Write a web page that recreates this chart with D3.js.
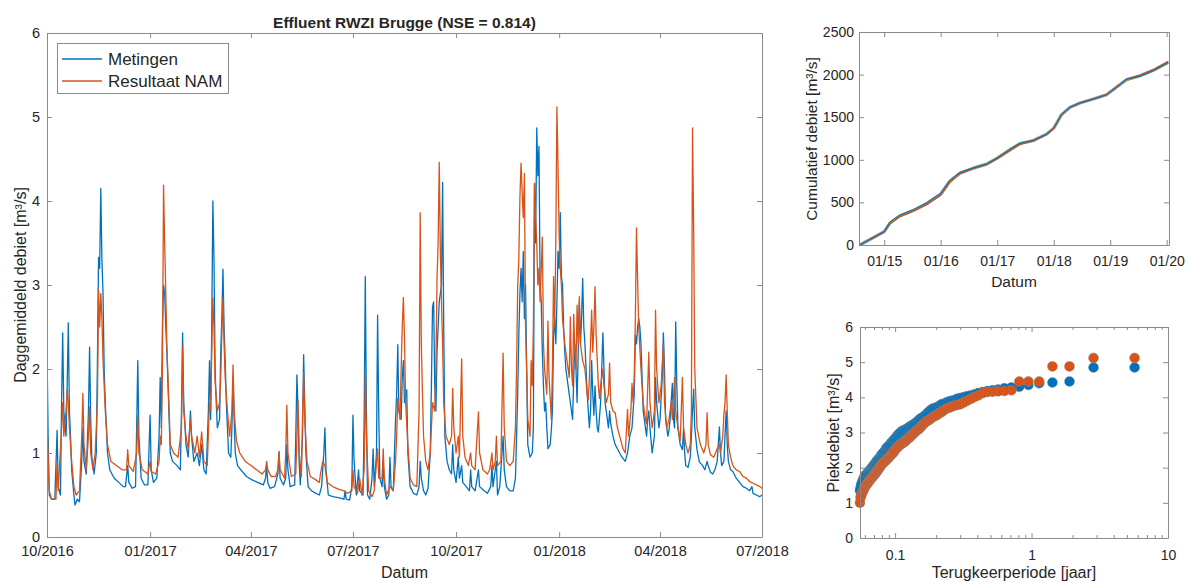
<!DOCTYPE html>
<html>
<head>
<meta charset="utf-8">
<script src="https://cdn.jsdelivr.net/npm/d3@7"></script>
<style>
  body { margin: 0; background: #fff; }
  svg { display: block; }
  text { font-family: "Liberation Sans", Arial, Helvetica, sans-serif; fill: #262626; }
  .axis .domain, .axis line { stroke: #8a8a8a; stroke-width: 1; }
</style>
</head>
<body>
<svg id="fig" width="1189" height="582"></svg>
<script>
// ---------------- Data ----------------

// Daily effluent discharge, Oct 2016 - Jul 2018: [day since 2016-10-01, m3/s]
const startDate = new Date(2016, 9, 1);
const endDate = new Date(2018, 6, 1);

const metingen = [
  [0,2.25],[1,1.2],[2,0.5],[4,0.45],[7,0.45],[9,1.27],[10,0.6],[12,0.5],[13,1.6],[14,2.43],[15,1.5],[17,1.2],[18,1.8],[19,2.55],[20,1.5],[21,1.2],[22,0.8],[24,0.5],[25,0.38],[27,0.45],[29,0.42],[31,0.9],[32,1.3],[33,0.9],[35,0.75],[37,1.5],[38,2.26],[39,1.4],[40,0.95],[42,0.75],[44,1.0],[45,2.1],[46,3.33],[47,3.2],[48,4.15],[49,3.3],[50,2.9],[51,2.0],[52,1.6],[54,1.0],[56,0.8],[60,0.7],[64,0.65],[68,0.6],[70,0.6],[72,0.85],[73,0.65],[76,0.58],[79,0.6],[80,1.3],[81,2.1],[82,1.2],[84,0.7],[87,0.62],[90,0.62],[92,1.45],[93,0.8],[95,0.65],[98,0.7],[100,1.2],[101,1.9],[102,1.3],[103,2.5],[104,3.0],[105,2.9],[106,2.5],[107,2.2],[109,1.4],[110,1.0],[112,0.9],[116,0.85],[119,0.8],[120,1.5],[121,2.43],[122,1.6],[124,1.1],[126,0.95],[128,1.5],[129,1.2],[131,0.9],[134,1.0],[136,0.85],[138,1.1],[140,0.8],[142,0.75],[144,1.5],[145,2.1],[146,1.4],[147,2.5],[148,4.0],[149,3.3],[150,2.0],[151,1.6],[152,1.3],[154,1.4],[155,2.2],[156,2.6],[157,3.19],[158,2.5],[159,2.1],[160,1.6],[161,1.3],[162,1.0],[164,0.95],[165,1.3],[166,1.9],[167,1.4],[168,1.0],[170,0.85],[173,0.8],[178,0.72],[183,0.68],[188,0.65],[193,0.62],[195,0.7],[196,0.85],[197,0.65],[199,0.58],[203,0.6],[206,0.75],[207,1.02],[208,0.7],[211,0.62],[213,0.7],[214,1.1],[215,0.8],[217,0.6],[221,0.62],[222,1.2],[223,1.93],[224,1.5],[225,0.9],[226,0.62],[228,1.2],[229,2.17],[230,1.6],[231,1.0],[233,0.6],[236,0.55],[240,0.52],[243,0.5],[245,0.6],[246,0.8],[247,1.0],[248,1.3],[249,0.8],[251,0.5],[255,0.48],[260,0.47],[265,0.45],[266,0.55],[267,0.45],[270,0.44],[272,0.6],[273,1.45],[274,0.9],[276,0.5],[278,0.8],[279,0.55],[282,0.5],[283,1.4],[284,3.1],[285,1.5],[286,0.5],[288,0.45],[290,0.7],[291,1.05],[292,0.6],[294,1.0],[295,2.64],[296,1.5],[297,0.7],[299,0.6],[300,0.9],[301,0.6],[303,0.45],[305,0.5],[306,0.95],[307,0.6],[309,0.55],[311,1.4],[312,1.7],[313,2.29],[314,1.5],[316,1.4],[317,1.9],[318,2.1],[319,1.6],[321,1.75],[322,1.0],[324,0.6],[327,0.52],[330,0.5],[332,0.6],[333,0.9],[334,0.7],[336,0.55],[338,0.5],[340,0.58],[342,1.0],[343,1.8],[344,2.74],[345,2.8],[346,1.8],[347,1.5],[348,2.2],[350,2.8],[352,3.0],[353,4.22],[354,2.5],[355,1.2],[357,0.9],[359,0.8],[361,0.75],[362,1.1],[363,0.8],[365,0.65],[367,0.95],[368,0.7],[370,0.85],[371,0.65],[374,0.6],[377,0.55],[378,0.8],[379,0.6],[382,0.55],[385,0.8],[386,0.6],[390,0.55],[393,0.52],[396,0.6],[397,0.85],[398,0.6],[401,0.9],[402,0.5],[404,0.6],[407,1.2],[408,0.8],[410,0.6],[413,0.55],[416,0.55],[418,0.7],[420,1.7],[421,2.4],[422,2.9],[423,3.2],[424,2.8],[425,3.4],[426,2.6],[427,3.0],[428,2.0],[429,1.1],[431,0.95],[433,1.0],[434,1.3],[435,4.21],[436,3.5],[437,4.87],[438,4.3],[439,4.65],[440,3.0],[441,2.8],[442,2.2],[443,1.8],[444,1.5],[445,1.6],[446,1.3],[447,1.05],[449,1.1],[450,1.27],[451,1.5],[452,2.4],[453,2.6],[454,2.3],[455,2.8],[456,3.4],[457,3.2],[458,3.86],[459,3.1],[460,3.0],[461,2.5],[462,2.2],[463,2.0],[465,1.8],[467,1.6],[469,1.4],[470,1.9],[471,2.3],[472,2.0],[473,1.6],[474,2.2],[475,2.8],[476,2.3],[477,2.6],[478,3.08],[479,2.5],[480,2.3],[481,2.0],[482,1.7],[483,1.5],[484,1.3],[485,1.5],[486,2.1],[487,1.7],[488,1.45],[489,1.8],[490,1.5],[491,1.3],[492,1.25],[493,1.43],[494,1.6],[495,2.0],[496,2.43],[497,2.0],[498,1.6],[499,1.5],[501,1.3],[502,1.5],[503,1.35],[505,1.2],[507,1.1],[509,1.05],[511,1.0],[513,0.95],[516,0.9],[518,1.0],[520,1.2],[522,1.3],[524,1.7],[525,2.4],[526,2.3],[527,2.5],[528,2.6],[529,2.5],[530,2.3],[531,1.9],[532,1.5],[534,1.3],[535,1.2],[536,1.4],[537,1.5],[538,1.3],[540,1.0],[542,1.2],[543,1.9],[544,1.6],[546,1.3],[547,1.4],[549,1.9],[550,2.43],[551,2.0],[552,1.4],[554,1.2],[555,1.27],[556,1.4],[558,1.83],[559,1.4],[560,1.3],[561,2.56],[562,1.8],[563,1.3],[565,1.1],[567,1.04],[568,1.3],[569,1.0],[570,0.85],[572,0.83],[574,0.95],[575,1.2],[576,1.5],[577,1.76],[578,1.3],[580,1.04],[582,0.9],[583,0.88],[585,0.85],[587,0.8],[589,0.9],[590,0.85],[592,0.77],[594,0.75],[596,0.8],[598,0.9],[599,1.1],[600,1.31],[601,1.0],[602,0.85],[604,0.9],[605,1.2],[606,1.5],[607,1.1],[608,0.9],[610,0.8],[612,0.78],[615,0.7],[618,0.65],[621,0.6],[624,0.58],[627,0.55],[629,0.6],[630,0.52],[633,0.5],[636,0.48],[638,0.5]
];

const resultaatNAM = [
  [0,1.35],[2,0.55],[4,0.45],[8,0.45],[9,0.9],[10,0.55],[13,1.3],[14,1.6],[15,1.2],[17,1.5],[18,1.75],[19,1.6],[20,1.3],[22,0.9],[24,0.6],[26,0.5],[29,0.55],[31,1.2],[32,1.71],[33,1.1],[35,0.8],[37,1.2],[38,1.55],[39,1.0],[41,0.8],[43,1.0],[45,1.6],[46,2.94],[47,2.5],[48,2.9],[49,2.6],[50,2.1],[52,1.5],[54,1.1],[57,0.9],[62,0.85],[67,0.8],[71,0.8],[72,1.04],[73,0.85],[77,0.78],[80,1.0],[81,1.45],[82,1.0],[85,0.8],[90,0.75],[92,0.9],[93,0.78],[97,0.75],[100,0.9],[101,1.2],[102,1.1],[103,2.0],[104,4.19],[105,3.5],[106,2.9],[107,2.25],[109,1.5],[110,1.1],[113,1.0],[117,0.95],[120,1.3],[121,2.27],[122,1.5],[124,1.2],[126,1.05],[128,1.4],[129,1.2],[132,1.0],[134,1.2],[136,0.95],[138,1.25],[140,0.9],[143,0.85],[145,1.6],[146,1.5],[147,2.2],[148,2.85],[149,2.5],[150,1.85],[152,1.5],[154,1.6],[155,1.9],[156,2.4],[157,2.85],[158,2.3],[159,1.9],[161,1.5],[163,1.2],[165,1.5],[166,2.05],[167,1.5],[169,1.15],[172,1.0],[177,0.9],[182,0.85],[187,0.8],[192,0.75],[195,0.8],[196,0.9],[197,0.8],[200,0.72],[204,0.72],[206,0.8],[207,1.0],[208,0.8],[212,0.7],[213,1.0],[214,1.57],[215,1.0],[218,0.72],[222,0.75],[224,1.62],[225,1.0],[227,0.72],[228,1.4],[229,1.95],[230,1.4],[232,0.9],[235,0.72],[240,0.68],[243,0.65],[244,0.75],[246,0.9],[248,0.85],[250,0.65],[255,0.6],[260,0.57],[265,0.55],[268,0.52],[272,0.55],[273,0.8],[274,0.6],[277,0.52],[279,0.7],[281,0.5],[283,0.8],[284,1.95],[285,1.2],[287,0.55],[290,0.48],[292,0.55],[295,1.05],[296,0.7],[299,0.7],[300,1.05],[301,0.7],[303,0.5],[306,0.6],[309,0.55],[311,0.9],[312,1.2],[313,1.65],[315,1.4],[316,2.0],[317,2.5],[318,2.85],[319,2.37],[320,1.6],[322,1.1],[324,0.7],[327,0.62],[330,0.6],[332,1.5],[333,3.86],[334,2.3],[335,1.73],[336,1.2],[338,0.9],[340,0.8],[342,1.0],[343,1.3],[344,1.6],[346,1.5],[347,2.0],[348,3.06],[349,3.5],[350,4.46],[351,3.4],[352,2.8],[353,2.3],[354,1.6],[356,1.2],[359,1.1],[361,1.2],[362,1.77],[363,1.3],[365,1.0],[367,1.2],[368,0.95],[370,2.12],[371,1.2],[373,0.95],[376,0.85],[378,1.0],[379,0.85],[382,0.8],[385,1.49],[386,1.0],[389,0.8],[393,0.75],[395,0.8],[397,1.0],[398,0.8],[400,0.9],[401,1.2],[402,0.85],[405,0.9],[407,2.19],[408,1.3],[410,0.9],[413,0.85],[416,0.9],[418,1.3],[419,2.0],[420,2.98],[421,3.3],[422,4.05],[423,4.45],[424,4.1],[425,3.8],[426,4.33],[427,2.5],[428,2.0],[429,1.4],[431,1.2],[432,2.1],[433,1.8],[434,2.5],[435,4.21],[436,3.8],[437,3.5],[438,3.0],[439,3.2],[440,2.8],[442,3.57],[443,2.3],[444,2.0],[446,1.7],[447,2.57],[448,1.9],[450,1.4],[451,2.0],[452,3.1],[453,2.5],[454,3.5],[455,5.12],[456,4.4],[457,3.6],[458,3.2],[459,3.0],[460,2.6],[462,2.3],[464,2.1],[466,1.9],[467,2.62],[468,2.0],[469,1.8],[470,2.65],[471,2.2],[472,2.0],[473,2.76],[474,2.3],[475,2.86],[476,2.3],[478,2.1],[480,2.0],[482,1.7],[483,1.63],[484,1.9],[485,2.3],[486,2.7],[487,2.2],[488,2.5],[489,2.98],[490,2.4],[491,2.1],[492,1.8],[493,1.65],[494,1.8],[496,2.0],[497,1.8],[499,1.6],[501,1.7],[502,2.07],[503,1.6],[505,1.5],[507,1.48],[509,1.3],[512,1.15],[514,1.05],[516,1.0],[518,1.52],[519,1.2],[521,1.5],[522,1.83],[523,1.6],[524,1.9],[525,2.6],[526,3.68],[527,3.06],[528,2.5],[530,2.0],[532,1.6],[534,1.4],[535,1.35],[537,2.2],[538,1.6],[540,1.3],[542,1.5],[543,2.7],[544,2.0],[546,1.6],[548,1.8],[550,2.3],[551,1.6],[553,1.3],[555,1.4],[557,1.6],[558,1.4],[560,1.9],[561,1.5],[563,1.3],[565,1.15],[567,1.9],[568,1.3],[570,1.1],[572,1.0],[574,1.1],[575,1.5],[576,4.87],[577,3.71],[578,2.0],[580,1.3],[583,1.1],[586,1.0],[588,1.1],[589,1.48],[590,1.1],[592,0.98],[595,0.95],[598,1.05],[600,1.1],[601,1.0],[603,1.2],[604,1.45],[605,1.6],[606,1.93],[607,1.5],[608,1.1],[610,0.95],[612,0.85],[615,0.8],[618,0.78],[621,0.72],[624,0.7],[627,0.66],[630,0.64],[633,0.62],[636,0.6],[638,0.58]
];

const mainTickDates = ["2016-10-01","2017-01-01","2017-04-01","2017-07-01","2017-10-01","2018-01-01","2018-04-01","2018-07-01"];
const mainYTicks = [0, 1, 2, 3, 4, 5, 6];

// Cumulative discharge 2014-2020 [m3/s], measured and model runs
const cumDates = ["2014-07-27","2015-01-01","2015-02-06","2015-04-11","2015-07-07","2015-10-01","2016-01-01","2016-02-28","2016-05-04","2016-07-30","2016-10-24","2017-01-01","2017-03-25","2017-05-27","2017-08-22","2017-11-15","2018-01-01","2018-02-20","2018-04-16","2018-06-19","2018-09-13","2018-12-08","2019-02-12","2019-04-16","2019-07-12","2019-10-06","2020-01-11"];
const cumGray   = [0,157,255,341,404,482,596,745,843,902,949,1019,1117,1188,1227,1301,1372,1529,1615,1666,1713,1764,1854,1940,1987,2050,2145];
const cumBlue   = [0,160,270,352,414,497,610,760,852,905,950,1022,1125,1195,1230,1298,1368,1530,1620,1668,1712,1762,1852,1945,1980,2045,2140];
const cumOrange = [0,152,245,330,395,470,580,730,835,900,945,1012,1110,1180,1222,1305,1378,1535,1618,1668,1716,1768,1858,1950,1995,2058,2155];
const cumYellow = [0,155,252,338,402,480,592,742,845,903,948,1018,1120,1190,1225,1300,1372,1530,1616,1667,1714,1766,1855,1942,1990,2052,2148];
const cumPurple = [0,150,248,335,400,478,588,738,840,898,945,1015,1112,1184,1220,1296,1370,1526,1612,1662,1711,1765,1857,1944,1992,2055,2150];
const cumGreen  = [0,158,262,348,410,490,605,755,855,910,958,1030,1135,1200,1232,1300,1370,1528,1614,1664,1710,1760,1850,1932,1975,2040,2132];
const cumTickDates = ["2015-01-01","2016-01-01","2017-01-01","2018-01-01","2019-01-01","2020-01-01"];
const cumYTicks = [0, 500, 1000, 1500, 2000, 2500];

// Ranked peak discharges [m3/s], largest first
const piekMetingen = [4.85,4.85,4.45,4.42,4.4,4.35,4.3,4.28,4.26,4.22,4.2,4.18,4.15,4.12,4.08,4.05,4.03,4.0,3.98,3.96,3.92,3.9,3.88,3.85,3.82,3.8,3.76,3.72,3.7,3.68,3.65,3.6,3.55,3.5,3.46,3.42,3.4,3.36,3.32,3.28,3.25,3.22,3.2,3.18,3.15,3.12,3.1,3.08,3.06,3.05,3.03,3.0,2.97,2.94,2.9,2.86,2.82,2.8,2.76,2.72,2.7,2.66,2.62,2.6,2.58,2.55,2.5,2.46,2.43,2.4,2.38,2.35,2.3,2.27,2.25,2.22,2.2,2.17,2.14,2.1,2.08,2.05,2.02,2.0,1.98,1.95,1.92,1.9,1.88,1.86,1.84,1.82,1.8,1.78,1.75,1.72,1.68,1.63,1.6,1.55,1.5,1.42,1.35];
const piekNAM = [5.12,5.12,4.88,4.88,4.45,4.45,4.45,4.2,4.18,4.17,4.16,4.15,4.12,4.05,4.0,3.95,3.9,3.85,3.8,3.78,3.76,3.73,3.7,3.68,3.63,3.58,3.55,3.5,3.47,3.44,3.4,3.36,3.33,3.3,3.25,3.2,3.15,3.1,3.07,3.04,3.0,2.96,2.92,2.88,2.85,2.82,2.78,2.75,2.72,2.7,2.68,2.66,2.63,2.6,2.57,2.55,2.5,2.45,2.42,2.4,2.37,2.33,2.3,2.27,2.24,2.22,2.2,2.17,2.15,2.12,2.1,2.07,2.04,2.0,1.97,1.94,1.9,1.88,1.85,1.82,1.8,1.77,1.74,1.72,1.7,1.68,1.65,1.62,1.6,1.57,1.55,1.52,1.5,1.47,1.44,1.4,1.37,1.33,1.3,1.25,1.2,1.15,1.0];
// record length in years; empirical return period = record length / rank
const recordYears = 5.69;
const retMajorTicks = [0.1, 1, 10];
const retYTicks = [0, 1, 2, 3, 4, 5, 6];

// ---------------- Drawing ----------------
const BLUE = "#0072BD", ORANGE = "#D95319", YELLOW = "#EDB120", PURPLE = "#7E2F8E", GREEN = "#77AC30";
const svg = d3.select("#fig");
const parse = d3.timeParse("%Y-%m-%d");
const addDays = d => d3.timeDay.offset(startDate, d);

// box-style axes with inward ticks on all four sides
function boxAxes(g, x, y, o) {
  const [x0, x1] = x.range(), [y0, y1] = y.range();
  const bottom = d3.axisBottom(x).tickValues(o.xTicks).tickFormat(o.xFormat)
    .tickSize(-5).tickSizeOuter(0).tickPadding(o.xPad);
  const top = d3.axisTop(x).tickValues(o.xTicks).tickFormat("")
    .tickSize(-5).tickSizeOuter(0);
  const left = d3.axisLeft(y).tickValues(o.yTicks).tickFormat(d3.format("d"))
    .tickSize(-5).tickSizeOuter(0).tickPadding(o.yPad);
  const right = d3.axisRight(y).tickValues(o.yTicks).tickFormat("")
    .tickSize(-5).tickSizeOuter(0);
  const gb = g.append("g").attr("class", "axis").attr("transform", `translate(0,${y0})`).call(bottom);
  g.append("g").attr("class", "axis").attr("transform", `translate(0,${y1})`).call(top);
  const gl = g.append("g").attr("class", "axis").attr("transform", `translate(${x0},0)`).call(left);
  g.append("g").attr("class", "axis").attr("transform", `translate(${x1},0)`).call(right);
  gb.selectAll("text").style("font-size", o.fs + "px").attr("fill", "#262626");
  gl.selectAll("text").style("font-size", o.fs + "px").attr("fill", "#262626");
  g.selectAll(".axis").attr("font-family", null).attr("font-size", null);
}

// ---- Main time series ----
const xMain = d3.scaleTime().domain([startDate, endDate]).range([47, 762]);
const yMain = d3.scaleLinear().domain([0, 6]).range([537, 33]);
const gMain = svg.append("g");
svg.append("defs").append("clipPath").attr("id", "clipMain")
  .append("rect").attr("x", 47).attr("y", 33).attr("width", 715).attr("height", 504);

const lineMain = d3.line().x(d => xMain(addDays(d[0]))).y(d => yMain(d[1]));
const series = gMain.append("g").attr("clip-path", "url(#clipMain)");
series.append("path").datum(metingen).attr("d", lineMain)
  .attr("fill", "none").attr("stroke", BLUE).attr("stroke-width", 1.3).attr("stroke-linejoin", "round");
series.append("path").datum(resultaatNAM).attr("d", lineMain)
  .attr("fill", "none").attr("stroke", ORANGE).attr("stroke-width", 1.3).attr("stroke-linejoin", "round");

boxAxes(gMain, xMain, yMain, {
  xTicks: mainTickDates.map(parse), xFormat: d3.timeFormat("%m/%Y"),
  yTicks: mainYTicks, fs: 14.5, xPad: 9, yPad: 7
});

svg.append("text").attr("x", 404.5).attr("y", 28).attr("text-anchor", "middle")
  .style("font-size", "15.5px").style("font-weight", "bold").text("Effluent RWZI Brugge (NSE = 0.814)");
svg.append("text").attr("x", 404.5).attr("y", 578).attr("text-anchor", "middle")
  .style("font-size", "16px").text("Datum");
svg.append("text").attr("transform", "translate(26,285) rotate(-90)").attr("text-anchor", "middle")
  .style("font-size", "16px").text("Daggemiddeld debiet [m³/s]");

// legend
const leg = svg.append("g");
leg.append("rect").attr("x", 57.5).attr("y", 43.5).attr("width", 171).attr("height", 50)
  .attr("fill", "#fff").attr("stroke", "#8a8a8a").attr("stroke-width", 1);
[["Metingen", BLUE], ["Resultaat NAM", ORANGE]].forEach(([label, c], i) => {
  const yy = 59 + i * 22;
  leg.append("line").attr("x1", 62).attr("x2", 102).attr("y1", yy).attr("y2", yy)
    .attr("stroke", c).attr("stroke-width", 1.3);
  leg.append("text").attr("x", 108).attr("y", yy + 6).style("font-size", "17px").text(label);
});

// ---- Cumulative discharge ----
const xCum = d3.scaleTime().domain([parse("2014-07-22"), parse("2020-01-16")]).range([859, 1169]);
const yCum = d3.scaleLinear().domain([0, 2500]).range([245, 32]);
const gCum = svg.append("g");
const cumLine = vals => d3.line().x((d, i) => xCum(parse(cumDates[i]))).y(d => yCum(d))(vals);
gCum.append("path").attr("d", cumLine(cumGray)).attr("fill", "none")
  .attr("stroke", "#9a9a9a").attr("stroke-width", 3.2).attr("stroke-linejoin", "round");
[[cumYellow, YELLOW], [cumPurple, PURPLE], [cumGreen, GREEN], [cumOrange, ORANGE], [cumBlue, BLUE]].forEach(([vals, c]) => {
  gCum.append("path").attr("d", cumLine(vals)).attr("fill", "none")
    .attr("stroke", c).attr("stroke-width", 1).attr("stroke-linejoin", "round");
});
boxAxes(gCum, xCum, yCum, {
  xTicks: cumTickDates.map(parse), xFormat: d3.timeFormat("%m/%y"),
  yTicks: cumYTicks, fs: 14, xPad: 11.5, yPad: 5
});
svg.append("text").attr("x", 1014).attr("y", 287).attr("text-anchor", "middle")
  .style("font-size", "15.5px").text("Datum");
svg.append("text").attr("transform", "translate(817,139) rotate(-90)").attr("text-anchor", "middle")
  .style("font-size", "15.5px").text("Cumulatief debiet [m³/s]");

// ---- Peak discharge vs return period ----
const xRet = d3.scaleLog().domain([0.0553, 10]).range([860, 1168]);
const yRet = d3.scaleLinear().domain([0, 6]).range([538, 327]);
const gRet = svg.append("g");
const minorTicks = xRet.ticks().filter(v => !retMajorTicks.some(m => Math.abs(m - v) < 1e-9));
// minor log ticks
gRet.append("g").attr("class", "axis").attr("transform", "translate(0,538)")
  .call(d3.axisBottom(xRet).tickValues(minorTicks).tickFormat("").tickSize(-3).tickSizeOuter(0));
gRet.append("g").attr("class", "axis").attr("transform", "translate(0,327)")
  .call(d3.axisTop(xRet).tickValues(minorTicks).tickFormat("").tickSize(-3).tickSizeOuter(0));

const pts = (vals) => vals.map((v, i) => ({ t: recordYears / (i + 1), q: v }));
[[piekMetingen, BLUE], [piekNAM, ORANGE]].forEach(([vals, c]) => {
  gRet.append("g").selectAll("circle").data(pts(vals)).join("circle")
    .attr("cx", d => xRet(d.t)).attr("cy", d => yRet(d.q)).attr("r", 5)
    .attr("fill", c).attr("stroke", "rgba(140,140,140,0.55)").attr("stroke-width", 0.7);
});
boxAxes(gRet, xRet, yRet, {
  xTicks: retMajorTicks, xFormat: d3.format("~g"),
  yTicks: retYTicks, fs: 14, xPad: 12, yPad: 7
});
svg.append("text").attr("x", 1014).attr("y", 578).attr("text-anchor", "middle")
  .style("font-size", "16px").text("Terugkeerperiode [jaar]");
svg.append("text").attr("transform", "translate(839,433) rotate(-90)").attr("text-anchor", "middle")
  .style("font-size", "16px").text("Piekdebiet [m³/s]");
</script>
</body>
</html>
